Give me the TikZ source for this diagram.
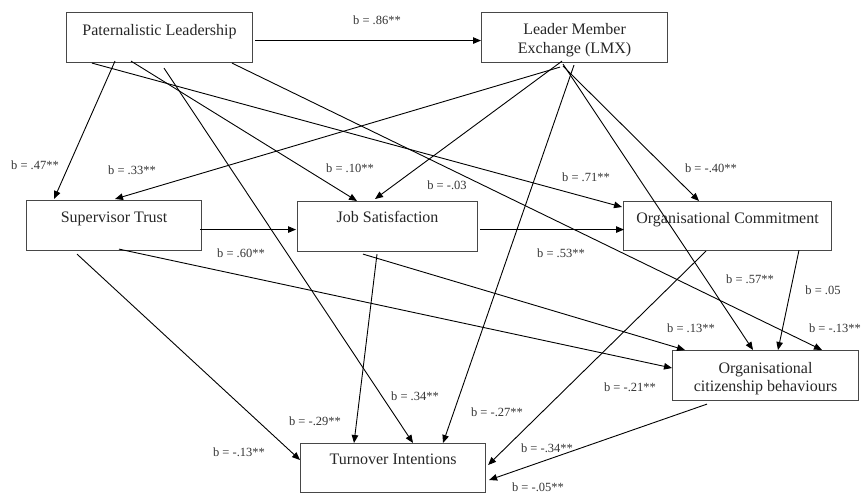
\documentclass[tikz,border=0pt]{standalone}
\usepackage{fontspec}
\setmainfont{Liberation Serif}
\usetikzlibrary{arrows.meta,calc}
\begin{document}
\begin{tikzpicture}[x=1pt,y=-1pt,
  box/.style={draw=black!72,line width=1.1pt,anchor=north west,inner sep=0pt},
  boxtext/.style={font=\fontsize{16}{19}\selectfont,anchor=base,inner sep=0pt,text=black!85},
  coef/.style={font=\fontsize{12.5}{14}\selectfont,inner sep=0pt,text=black!80},
  arr/.style={draw=black,line width=0.9pt,-{Triangle[length=8pt,width=6.5pt]}}
]
\useasboundingbox (0,0) rectangle (861,493);
% boxes
\node[box,minimum width=186pt,minimum height=50pt] (PL) at (66,12) {};
\node[box,minimum width=186pt,minimum height=50pt] (LMX) at (481,12) {};
\node[box,minimum width=175pt,minimum height=50pt] (ST) at (26,200) {};
\node[box,minimum width=180pt,minimum height=50pt] (JS) at (297,201) {};
\node[box,minimum width=208pt,minimum height=49pt] (OC) at (623,201) {};
\node[box,minimum width=186pt,minimum height=50pt] (OCB) at (672,350) {};
\node[box,minimum width=185pt,minimum height=49pt] (TI) at (300,443) {};
% box texts
\node[boxtext] (PLt) at ($(PL.north)+(0,23)$) {Paternalistic Leadership};
\node[boxtext] (LMXa) at ($(LMX.north)+(0,22)$) {Leader Member};
\node[boxtext] (LMXb) at ($(LMX.north)+(0,41)$) {Exchange (LMX)};
\node[boxtext] (STt) at ($(ST.north)+(0,22)$) {Supervisor Trust};
\node[boxtext] (JSt) at ($(JS.north)+(0,21)$) {Job Satisfaction};
\node[boxtext] (OCt) at ($(OC.north)+(0,22)$) {Organisational Commitment};
\node[boxtext] (OCBa) at ($(OCB.north)+(0,23)$) {Organisational};
\node[boxtext] (OCBb) at ($(OCB.north)+(0,41)$) {citizenship behaviours};
\node[boxtext] (TIt) at ($(TI.north)+(0,21)$) {Turnover Intentions};
% arrows from Paternalistic Leadership
\draw[arr] ($(PL.east)+(2,3)$) -- ($(LMX.west)+(0,3)$);
\draw[arr] ($(PL.south west)+(49,-2)$) -- ($(ST.north west)+(28,-1)$);
\draw[arr] ($(PL.south west)+(65,-2)$) -- ($(JS.north west)+(60,0)$);
\draw[arr] ($(PL.south west)+(98,5)$) -- ($(TI.north west)+(113,0)$);
\draw[arr] ($(PL.south west)+(26,0)$) -- ($(OC.north west)+(-1,6)$);
\draw[arr] ($(PL.south west)+(166,0)$) -- ($(OCB.north west)+(150,0)$);
% arrows from LMX
\draw[arr] ($(LMX.south west)+(79,4)$) -- ($(ST.north west)+(89,-1)$);
\draw[arr] ($(LMX.south west)+(81,-2)$) -- ($(JS.north west)+(78,-2)$);
\draw[arr] ($(LMX.south west)+(82,3)$) -- ($(OC.north west)+(76,0)$);
\draw[arr] ($(LMX.south west)+(82,1)$) -- ($(OCB.north west)+(81,0)$);
\draw[arr] ($(LMX.south west)+(93,2)$) -- ($(TI.north west)+(143,0)$);
% middle row
\draw[arr] ($(ST.east)+(-2,4)$) -- ($(JS.west)+(-1,3)$);
\draw[arr] ($(JS.east)+(2,3)$) -- ($(OC.west)+(1,3.5)$);
\draw[arr] ($(JS.south west)+(80,2)$) -- ($(TI.north west)+(54,0)$);
\draw[arr] ($(JS.south west)+(66,2)$) -- ($(OCB.north west)+(13,0)$);
\draw[arr] ($(ST.south west)+(51,3)$) -- ($(TI.north west)+(0,17)$);
\draw[arr] ($(ST.south west)+(93,-2)$) -- ($(OCB.north west)+(0,18)$);
\draw[arr] ($(OC.south west)+(83,0)$) -- ($(TI.north east)+(2,22)$);
\draw[arr] ($(OC.south west)+(176,-1)$) -- ($(OCB.north west)+(106,0)$);
\draw[arr] ($(OCB.south west)+(35,3)$) -- ($(TI.north east)+(3,37)$);
% coefficients
\node[coef] (c1) at (377,20) {b = .86**};
\node[coef] (c2) at (35,165) {b = .47**};
\node[coef] (c3) at (132,170) {b = .33**};
\node[coef] (c4) at (350,168) {b = .10**};
\node[coef] (c5) at (447,185) {b = -.03};
\node[coef] (c6) at (586,177) {b = .71**};
\node[coef] (c7) at (711,168) {b = -.40**};
\node[coef] (c8) at (241,253) {b = .60**};
\node[coef] (c9) at (561,253) {b = .53**};
\node[coef] (c10) at (750,279) {b = .57**};
\node[coef] (c11) at (823,290) {b = .05};
\node[coef] (c12) at (691,328) {b = .13**};
\node[coef] (c13) at (835,328) {b = -.13**};
\node[coef] (c14) at (630,387) {b = -.21**};
\node[coef] (c15) at (497,412) {b = -.27**};
\node[coef] (c16) at (547,448) {b = -.34**};
\node[coef] (c17) at (538,487) {b = -.05**};
\node[coef] (c18) at (415,396) {b = .34**};
\node[coef] (c19) at (315,421) {b = -.29**};
\node[coef] (c20) at (239,452) {b = -.13**};
\end{tikzpicture}
\end{document}
